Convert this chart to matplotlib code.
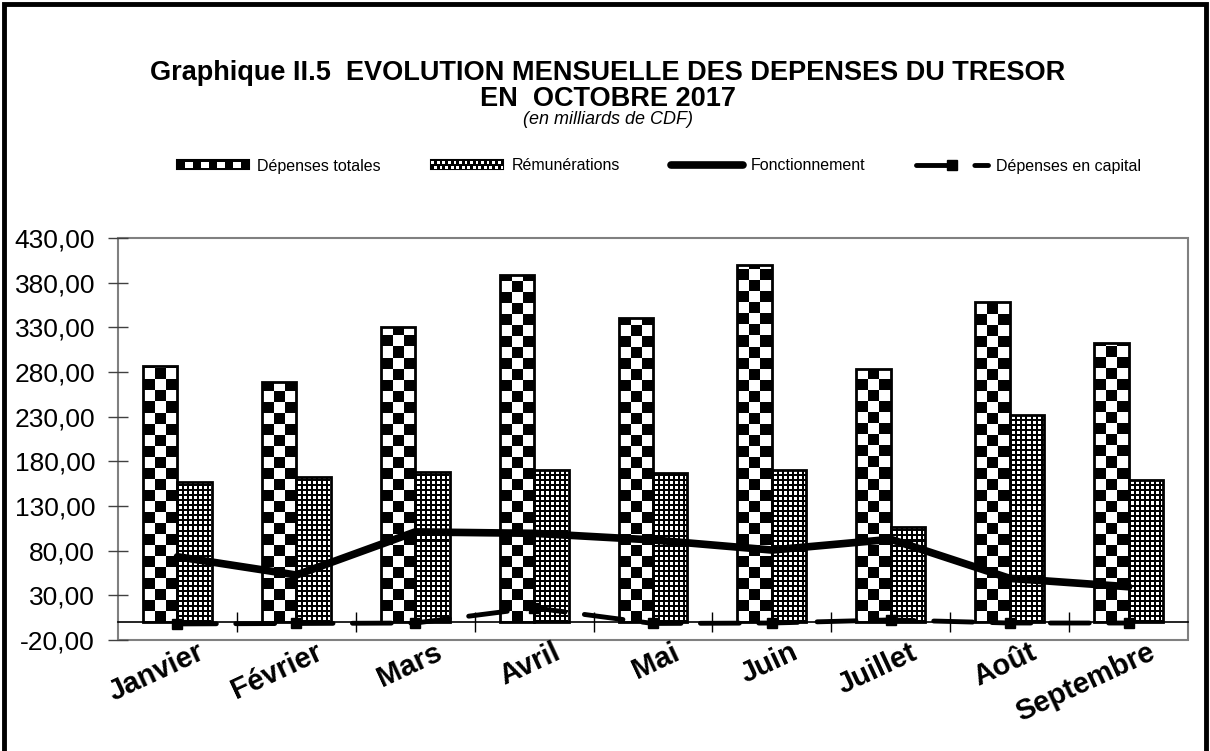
import matplotlib.pyplot as plt
import matplotlib.transforms as mtransforms
import numpy as np
from matplotlib.legend_handler import HandlerBase
from matplotlib.patches import Rectangle

plt.rcParams['font.family'] = ['Liberation Sans', 'DejaVu Sans']

# donnees (en milliards de CDF)
mois = ['Janvier', 'Février', 'Mars', 'Avril', 'Mai', 'Juin', 'Juillet', 'Août', 'Septembre']
depenses_totales = [287.0, 268.4, 330.7, 389.0, 340.0, 400.0, 283.3, 358.0, 312.4]
remunerations = [157.0, 162.4, 168.0, 170.6, 167.0, 170.6, 106.8, 231.8, 159.4]
fonctionnement = [73.2, 52.7, 101.0, 99.4, 92.0, 80.7, 92.7, 49.0, 39.6]
capital = [-2.0, -1.5, -1.0, 16.0, -1.5, -1.0, 2.5, -1.0, -1.0]
yticks = np.arange(-20, 431, 50)

W, H = 1210, 751
YMIN, YMAX = -20, 430


class CheckerHandler(HandlerBase):
    # legend handle drawn as a small checker board
    def __init__(self, ncols, nrows, **kw):
        super().__init__(**kw)
        self.ncols = ncols
        self.nrows = nrows

    def create_artists(self, legend, orig_handle, xdescent, ydescent, width, height, fontsize, trans):
        h = height * 0.8
        x0, y0 = -xdescent, -ydescent + (height - h) / 2
        arts = [Rectangle((x0, y0), width, h, fc='black', ec='black', lw=1.5, transform=trans)]
        cw, ch = width / self.ncols, h / self.nrows
        for i in range(self.ncols):
            for j in range(self.nrows):
                if (i + j) % 2:
                    arts.append(Rectangle((x0 + i * cw, y0 + j * ch + 0.15 * ch), cw, ch * 0.7,
                                          fc='white', ec='none', transform=trans))
        return arts


def pattern_fill(ax, bar, kind, px_x, px_y):
    """fills a bar with a checker pattern (image clipped to the bar)"""
    x0, w, h = bar.get_x(), bar.get_width(), bar.get_height()
    if kind == 'gros':
        cell = 11.0 / px_y
        nrows = int(np.ceil(h / cell))
        img = np.add.outer(np.arange(nrows) + 1, np.arange(3)) % 2
        extent = [x0, x0 + w, 0, nrows * cell]
    else:
        ncols = int(round(w * px_x))
        nrows = int(np.ceil(h * px_y))
        i = np.arange(nrows)[:, None]
        j = np.arange(ncols)[None, :]
        img = ((i % 5 >= 2) & (j % 5 >= 2)).astype(float)
        extent = [x0, x0 + ncols / px_x, 0, nrows / px_y]
    im = ax.imshow(img, cmap='gray', vmin=0, vmax=1, extent=extent, aspect='auto',
                   interpolation='nearest', origin='lower', zorder=2)
    im.set_clip_path(bar)


fig = plt.figure(figsize=(W / 100, H / 100), dpi=100)
ax = fig.add_axes([118 / W, 1 - 640 / H, (1188 - 118) / W, (640 - 238) / H])

x = np.arange(len(mois))
ax.set_xlim(-0.5, len(mois) - 0.5)
ax.set_ylim(YMIN, YMAX)
px_x = (1188 - 118) / len(mois)
px_y = (640 - 238) / (YMAX - YMIN)

bw = 0.29
bars_tot = ax.bar(x - bw / 2, depenses_totales, bw, facecolor='none', edgecolor='black', lw=2, zorder=3)
bars_rem = ax.bar(x + bw / 2, remunerations, bw, facecolor='none', edgecolor='black', lw=2, zorder=3)
for b in bars_tot:
    pattern_fill(ax, b, 'gros', px_x, px_y)
for b in bars_rem:
    pattern_fill(ax, b, 'fin', px_x, px_y)

l_fonc, = ax.plot(x, fonctionnement, color='black', lw=5.5, solid_capstyle='round', zorder=5)
l_cap, = ax.plot(x, capital, color='black', lw=3.5, dashes=(8, 4), dash_capstyle='round',
                 marker='s', ms=7, zorder=5)

ax.set_xlim(-0.5, len(mois) - 0.5)
ax.set_ylim(YMIN, YMAX)

# frame and axis through zero
for s in ['left', 'right', 'top']:
    ax.spines[s].set_visible(False)
ax.spines['bottom'].set_position(('data', 0))
ax.spines['bottom'].set_color('black')
ax.spines['bottom'].set_linewidth(1.2)
ax.add_patch(Rectangle((0, 0), 1, 1, transform=ax.transAxes, fill=False, ec='#808080', lw=1.5,
                       clip_on=False, zorder=1))

ax.set_yticks(yticks)
ax.set_yticklabels([f'{v:.2f}'.replace('.', ',') for v in yticks], fontsize=19)
ax.tick_params(axis='y', direction='inout', length=15, width=1, color='#404040', pad=9)

ax.set_xticks(x)
ax.set_xticks(np.arange(0.5, len(mois) - 0.5, 1), minor=True)
ax.tick_params(axis='x', which='major', length=0, pad=8)
ax.tick_params(axis='x', which='minor', direction='inout', length=15, width=1, color='black')
ax.set_xticklabels(mois, rotation=25, ha='right', rotation_mode='anchor', fontsize=21, fontweight='bold')
offset = mtransforms.ScaledTranslation(0.19, -0.05, fig.dpi_scale_trans)
for lab in ax.get_xticklabels():
    lab.set_transform(lab.get_transform() + offset)

# titles
fig.text(608 / W, 1 - 86 / H, 'Graphique II.5  EVOLUTION MENSUELLE DES DEPENSES DU TRESOR\nEN  OCTOBRE 2017',
         ha='center', va='center', fontsize=19.5, fontweight='bold', linespacing=0.95)
fig.text(608 / W, 1 - 119 / H, '(en milliards de CDF)', ha='center', va='center', fontsize=13, style='italic')

h_tot = Rectangle((0, 0), 1, 1)
h_rem = Rectangle((0, 0), 1, 1)
fig.legend([h_tot, h_rem, l_fonc, l_cap],
           ['Dépenses totales', 'Rémunérations', 'Fonctionnement', 'Dépenses en capital'],
           handler_map={h_tot: CheckerHandler(9, 1), h_rem: CheckerHandler(26, 2)},
           loc='center', bbox_to_anchor=(659 / W, 1 - 166 / H), ncol=4, frameon=False,
           fontsize=11.5, handlelength=4.5, handletextpad=0.5, columnspacing=3.2)

# outer border
fig.patches.append(Rectangle((4 / W, -0.05), 1202 / W, 1.05 - 4 / H, transform=fig.transFigure,
                             fill=False, ec='black', lw=3.5))

plt.savefig('out.png', dpi=100)
plt.close()
